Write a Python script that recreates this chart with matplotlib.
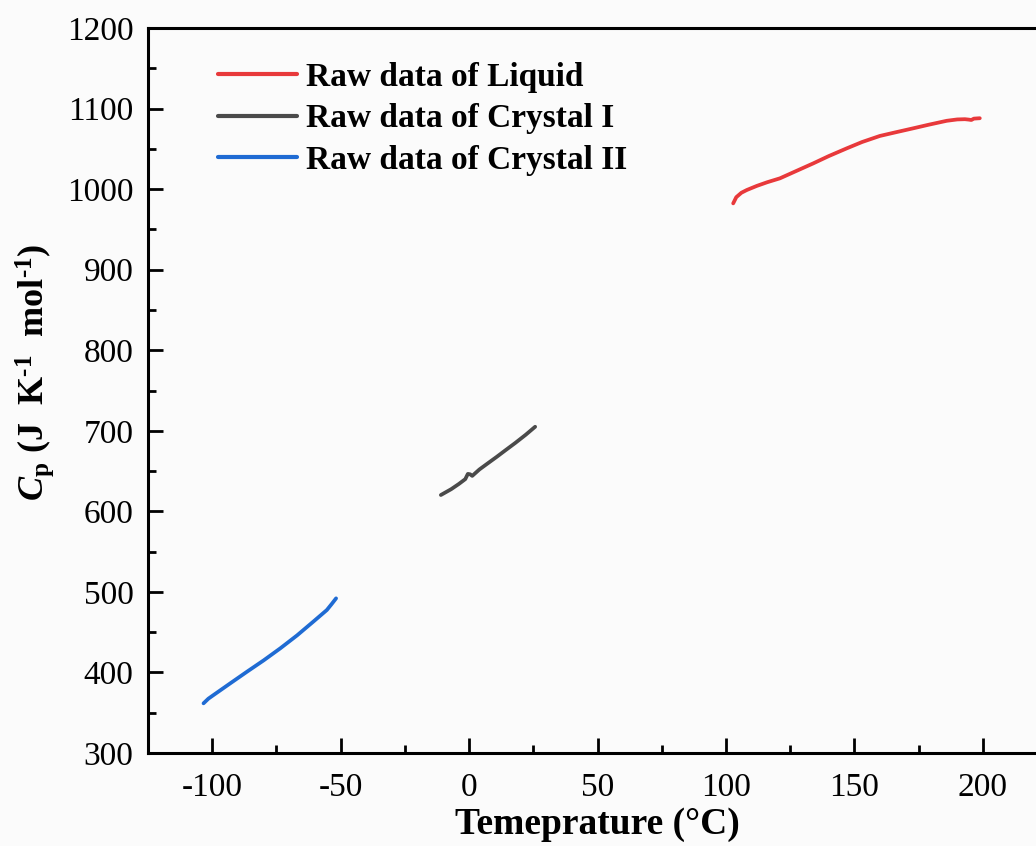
import matplotlib
matplotlib.use("Agg")
import matplotlib.pyplot as plt
from matplotlib.ticker import MultipleLocator

# Heat capacity raw data, temperature in °C and Cp in J K^-1 mol^-1
liquid_T = [102.8, 104.0, 106.0, 108.1, 112.0, 116.0, 121.0, 127.0, 134.0, 140.0,
            147.0, 153.0, 159.9, 166.0, 172.9, 179.0, 185.9, 190.0, 193.0, 194.5,
            195.5, 196.5, 198.8]
liquid_Cp = [982.3, 990.0, 995.5, 998.9, 1004.0, 1008.5, 1013.4, 1022.0, 1032.0, 1041.0,
             1050.6, 1058.5, 1066.0, 1070.5, 1075.5, 1080.0, 1084.8, 1086.5, 1086.8, 1086.3,
             1085.8, 1087.5, 1088.0]

crystal1_T = [-11.0, -7.0, -4.0, -1.5, -0.5, 0.4, 1.2, 4.0, 7.0, 10.8, 14.0, 18.0,
              22.0, 25.7]
crystal1_Cp = [620.3, 627.5, 634.0, 640.0, 646.5, 646.0, 644.0, 652.0, 659.0, 667.8,
               675.5, 685.0, 695.0, 705.0]

crystal2_T = [-103.4, -101.5, -99.5, -93.0, -86.5, -80.0, -73.5, -67.0, -60.7,
              -55.4, -53.5, -51.8]
crystal2_Cp = [361.7, 367.5, 372.0, 386.5, 400.9, 415.0, 430.0, 446.0, 463.0,
               477.5, 485.0, 492.0]

labels = ["Raw data of Liquid", "Raw data of Crystal I", "Raw data of Crystal II"]
colors = ["#e8393b", "#4a4a4a", "#1f6bd3"]

plt.rcParams["font.family"] = ["Liberation Serif", "DejaVu Serif"]
plt.rcParams["axes.unicode_minus"] = False
plt.rcParams["mathtext.fontset"] = "custom"
plt.rcParams["mathtext.rm"] = "Liberation Serif:bold"
plt.rcParams["mathtext.it"] = "Liberation Serif:italic:bold"
plt.rcParams["mathtext.bf"] = "Liberation Serif:bold"

bg = "#fbfbfb"
fig = plt.figure(figsize=(10.36, 8.46), dpi=100, facecolor=bg)
ax = fig.add_axes([0.1429, 0.1099, 0.8678, 0.857], facecolor=bg)

for T, Cp, lab, c in zip([liquid_T, crystal1_T, crystal2_T],
                         [liquid_Cp, crystal1_Cp, crystal2_Cp], labels, colors):
    ax.plot(T, Cp, color=c, lw=2.7, label=lab, solid_capstyle="round",
            solid_joinstyle="round")

ax.set_xlim(-125, 225)
ax.set_ylim(300, 1200)
ax.xaxis.set_major_locator(MultipleLocator(50))
ax.xaxis.set_minor_locator(MultipleLocator(25))
ax.yaxis.set_major_locator(MultipleLocator(100))
ax.yaxis.set_minor_locator(MultipleLocator(50))

ax.tick_params(which="both", direction="in", top=False, right=False,
               width=2, labelsize=24)
ax.tick_params(which="major", length=11)
ax.tick_params(which="minor", length=6)
ax.tick_params(axis="x", pad=14)
ax.tick_params(axis="y", pad=10.5)
for s in ax.spines.values():
    s.set_linewidth(2.2)

ax.set_xlabel("Temeprature (°C)", fontsize=27, fontweight="bold", labelpad=3)
ax.set_ylabel(r"$C_{\mathrm{p}}$ (J  K$^{\text{-1}}$  mol$^{\text{-1}}$)",
              fontsize=26, fontweight="bold")
ax.yaxis.set_label_coords(-0.102, 0.525)

leg = ax.legend(loc="upper left", bbox_to_anchor=(0.0633, 0.972), frameon=False,
                prop={"weight": "bold", "size": 24}, handlelength=2.37,
                handletextpad=0.25, labelspacing=0.32, borderaxespad=0)
for h in leg.legend_handles:
    h.set_linewidth(3.0)

fig.savefig("out.png", dpi=100, facecolor=bg)
